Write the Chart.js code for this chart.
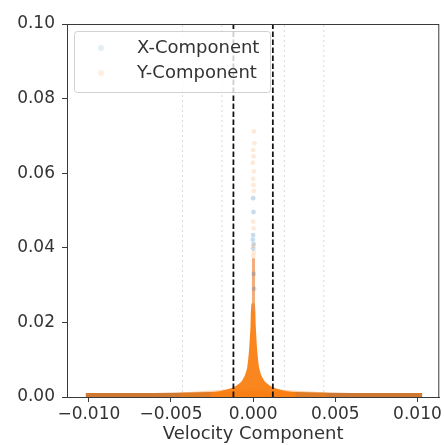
<!DOCTYPE html>
<html>
<head>
<meta charset="utf-8">
<script src="https://cdn.jsdelivr.net/npm/chart.js@4"></script>
<style>
    html, body { margin: 0; padding: 0; background: #ffffff; }
    #wrap { width: 444px; height: 445px; }
</style>
</head>
<body>
<div id="wrap"><canvas id="velocityChart" width="444" height="445"></canvas></div>
<script>
// Velocity component distribution

const xTicks = [-0.010, -0.005, 0.000, 0.005, 0.010];
const yTicks = [0.00, 0.02, 0.04, 0.06, 0.08, 0.10];

// low band of points along the whole velocity range
const bandX = [-0.0102, -0.008, -0.006, -0.004, -0.002, 0, 0.002, 0.004, 0.006, 0.008, 0.0103];
const bandTop = [0.0011, 0.0011, 0.0011, 0.0012, 0.0014, 0.0016, 0.0014, 0.0012, 0.0011, 0.0011, 0.0011];

// light haze just above the band near the centre
const hazeX = [-0.0045, -0.003, -0.0015, 0, 0.0015, 0.003, 0.0045];
const hazeTop = [0.0012, 0.0016, 0.0021, 0.0025, 0.0021, 0.0016, 0.0012];

// dense central peak (outline)
const peakX = [-0.0026, -0.0019, -0.0014, -0.0010, -0.0007, -0.0005, -0.00036, -0.00025, -0.00016, -0.00010, 0.00010, 0.00016, 0.00025, 0.00036, 0.0005, 0.0007, 0.0010, 0.0014, 0.0019, 0.0026];
const peakY = [0.0012, 0.0017, 0.0023, 0.0031, 0.0042, 0.0058, 0.0080, 0.0125, 0.0190, 0.0250, 0.0250, 0.0190, 0.0125, 0.0080, 0.0058, 0.0042, 0.0031, 0.0023, 0.0017, 0.0012];

// thin column of the peak above the dense part
const columnX = [0.00002, 0.00002];
const columnY = [0.0230, 0.0372];

// sparse points high on the peak
const xCompX = [0.00000, 0.00002, 0.00000, -0.00002, 0.00003, 0.00000, 0.00004, 0.00006];
const xCompY = [0.0533, 0.0496, 0.0434, 0.0422, 0.0410, 0.0398, 0.0330, 0.0290];
const yCompX = [0.00005, 0.00008, 0.00000, 0.00003, -0.00002, 0.00005, 0.00000, 0.00002, 0.00004, 0.00000, 0.00003, 0.00002, 0.00005, 0.00001];
const yCompY = [0.0712, 0.0680, 0.0662, 0.0645, 0.0628, 0.0605, 0.0585, 0.0568, 0.0552, 0.0470, 0.0452, 0.0405, 0.0388, 0.0378];

// vertical reference lines
const cutoffX = [-0.0012, 0.0012];
const guideX = [-0.0043, -0.0019, 0.0019, 0.0043];

const xMin = -0.01133;
const xMax = 0.01133;
const yMin = 0.0;
const yMax = 0.10;

const BLUE = '31, 119, 180';
const ORANGE = '255, 127, 14';
const FONT = "'DejaVu Sans', sans-serif";
const TEXT_COLOR = '#333333';

function toPoints(xs, ys) {
    return xs.map((x, i) => ({ x: x, y: ys[i] }));
}

function verticalLine(x, color, dash, width, order) {
    return {
        type: 'line',
        data: [{ x: x, y: yMin }, { x: x, y: yMax }],
        borderColor: color,
        borderDash: dash,
        borderWidth: width,
        pointRadius: 0,
        fill: false,
        order: order
    };
}

function formatTick(value, digits) {
    const text = Math.abs(value).toFixed(digits);
    return value < -1e-9 ? '\u2212' + text : text;
}

const datasets = [];

guideX.forEach(x => {
    datasets.push(verticalLine(x, 'rgba(160, 160, 170, 0.4)', [2, 3], 1, 9));
});

datasets.push({
    type: 'line',
    data: toPoints(bandX, bandTop),
    borderWidth: 0,
    backgroundColor: 'rgb(206, 120, 50)',
    pointRadius: 0,
    fill: 'origin',
    order: 8
});

datasets.push({
    type: 'line',
    data: toPoints(hazeX, hazeTop),
    borderWidth: 0,
    backgroundColor: 'rgba(' + ORANGE + ', 0.35)',
    pointRadius: 0,
    tension: 0.4,
    fill: 'origin',
    order: 7
});

datasets.push({
    type: 'line',
    data: toPoints(peakX, peakY),
    borderWidth: 0,
    backgroundColor: 'rgba(250, 128, 20, 0.95)',
    pointRadius: 0,
    tension: 0.2,
    fill: 'origin',
    order: 6
});

datasets.push({
    type: 'line',
    data: toPoints(columnX, columnY),
    borderColor: 'rgba(236, 146, 80, 0.75)',
    borderWidth: 3,
    pointRadius: 0,
    fill: false,
    order: 5
});

datasets.push({
    label: 'X-Component',
    type: 'scatter',
    data: toPoints(xCompX, xCompY),
    backgroundColor: 'rgba(' + BLUE + ', 0.25)',
    borderWidth: 0,
    pointRadius: 2.4,
    order: 4,
    legendColor: 'rgba(' + BLUE + ', 0.12)'
});

datasets.push({
    label: 'Y-Component',
    type: 'scatter',
    data: toPoints(yCompX, yCompY),
    backgroundColor: 'rgba(' + ORANGE + ', 0.16)',
    borderWidth: 0,
    pointRadius: 2.4,
    order: 3,
    legendColor: 'rgba(' + ORANGE + ', 0.12)'
});

cutoffX.forEach(x => {
    datasets.push(verticalLine(x, '#141414', [5.5, 2.5], 1.8, 0));
});

// top/right spines like the matplotlib frame
const framePlugin = {
    id: 'frame',
    afterDatasetsDraw(chart) {
        const { ctx, chartArea } = chart;
        ctx.save();
        ctx.strokeStyle = '#3a3a3a';
        ctx.lineWidth = 1;
        ctx.strokeRect(chartArea.left + 0.5, chartArea.top + 0.5,
            chartArea.right - chartArea.left - 1, chartArea.bottom - chartArea.top);
        ctx.restore();
    }
};

// matplotlib style legend box drawn over the data
const legendPlugin = {
    id: 'boxLegend',
    afterDraw(chart) {
        const { ctx } = chart;
        const items = chart.data.datasets.filter(ds => ds.label);
        const box = { x: 74.5, y: 31.5, w: 196, h: 61 };
        ctx.save();
        ctx.beginPath();
        ctx.roundRect(box.x, box.y, box.w, box.h, 3);
        ctx.fillStyle = 'rgba(255, 255, 255, 0.8)';
        ctx.fill();
        ctx.strokeStyle = 'rgba(204, 204, 204, 0.9)';
        ctx.lineWidth = 1;
        ctx.stroke();

        ctx.font = '18px ' + FONT;
        ctx.textBaseline = 'middle';
        ctx.textAlign = 'left';
        items.forEach((ds, i) => {
            const cy = 48 + i * 25;
            ctx.beginPath();
            ctx.arc(101, cy, 3, 0, Math.PI * 2);
            ctx.fillStyle = ds.legendColor;
            ctx.fill();
            ctx.fillStyle = TEXT_COLOR;
            ctx.fillText(ds.label, 137, cy);
        });
        ctx.restore();
    }
};

const velocityChart = new Chart(document.getElementById('velocityChart').getContext('2d'), {
    type: 'scatter',
    data: { datasets: datasets },
    options: {
        responsive: false,
        animation: false,
        events: [],
        layout: {
            padding: { top: 24, right: 3, left: 0, bottom: 0 }
        },
        plugins: {
            legend: { display: false },
            tooltip: { enabled: false }
        },
        scales: {
            x: {
                type: 'linear',
                min: xMin,
                max: xMax,
                afterBuildTicks: axis => {
                    axis.ticks = xTicks.map(v => ({ value: v }));
                },
                afterFit: axis => {
                    axis.height = 48;
                },
                grid: {
                    drawOnChartArea: false,
                    drawTicks: true,
                    tickLength: 5,
                    tickColor: '#3a3a3a'
                },
                border: { display: true, color: '#3a3a3a', width: 1 },
                ticks: {
                    color: TEXT_COLOR,
                    padding: 2,
                    maxRotation: 0,
                    font: { family: FONT, size: 17 },
                    callback: value => formatTick(value, 3)
                },
                title: {
                    display: true,
                    text: 'Velocity Component',
                    color: TEXT_COLOR,
                    padding: 0,
                    font: { family: FONT, size: 18 }
                }
            },
            y: {
                type: 'linear',
                min: yMin,
                max: yMax,
                afterBuildTicks: axis => {
                    axis.ticks = yTicks.map(v => ({ value: v }));
                },
                afterFit: axis => {
                    axis.width = 67;
                },
                grid: {
                    drawOnChartArea: false,
                    drawTicks: true,
                    tickLength: 5,
                    tickColor: '#3a3a3a'
                },
                border: { display: true, color: '#3a3a3a', width: 1 },
                ticks: {
                    color: TEXT_COLOR,
                    padding: 7,
                    font: { family: FONT, size: 17 },
                    callback: value => formatTick(value, 2)
                }
            }
        }
    },
    plugins: [framePlugin, legendPlugin]
});
</script>
</body>
</html>
